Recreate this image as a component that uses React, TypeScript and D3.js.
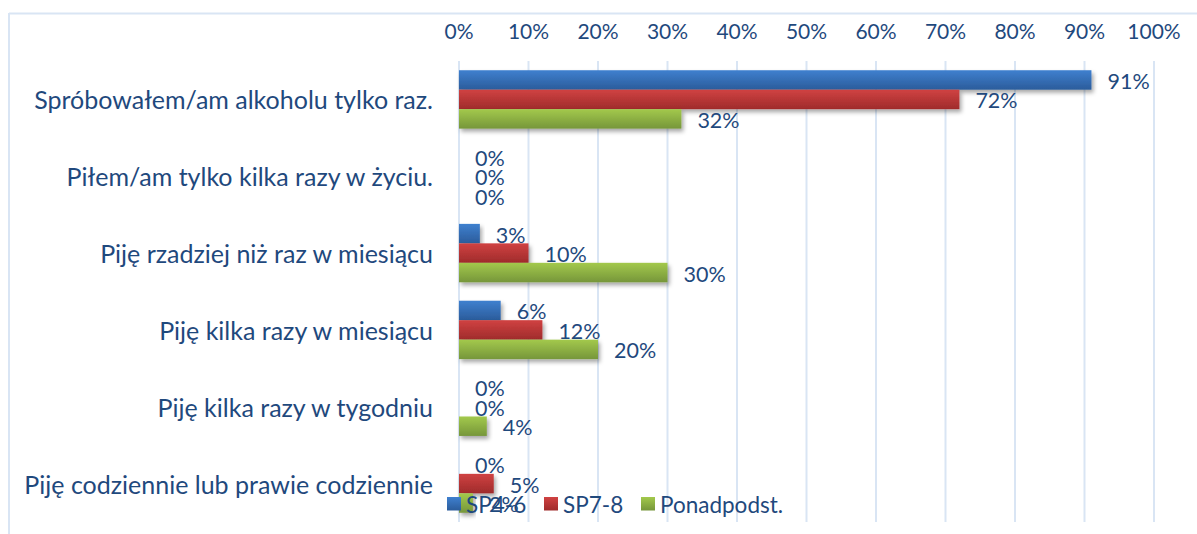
import React from "react";
import * as d3 from "d3";

const categories = [
  "Spróbowałem/am alkoholu tylko raz.",
  "Piłem/am tylko kilka razy w życiu.",
  "Piję rzadziej niż raz w miesiącu",
  "Piję kilka razy w miesiącu",
  "Piję kilka razy w tygodniu",
  "Piję codziennie lub prawie codziennie",
];
const seriesNames = ["SP4-6", "SP7-8", "Ponadpodst."];
const sp46 = [91, 0, 3, 6, 0, 0];
const sp78 = [72, 0, 10, 12, 0, 5];
const ponad = [32, 0, 30, 20, 4, 2];
const tickValues = [0, 10, 20, 30, 40, 50, 60, 70, 80, 90, 100];

const W = 1197;
const H = 534;
const FONT = "Lato, 'Open Sans', sans-serif";
const TEXT = "#1F497D";
const GRID = "#D9E5F4";
const grads = [
  { id: "gBlue", top: "#3F80CF", bot: "#2B5C9B" },
  { id: "gRed", top: "#D04242", bot: "#9F2B2B" },
  { id: "gGreen", top: "#A3C94C", bot: "#76963A" },
];

export default function App() {
  const series = [sp46, sp78, ponad];
  const x = d3.scaleLinear().domain([0, 100]).range([459, 1154]);
  const y = d3.scaleBand<string>().domain(categories).range([61, 522]).paddingInner(0.24).paddingOuter(0.12);
  const inner = d3.scaleBand<number>().domain([0, 1, 2]).range([0, y.bandwidth()]);
  const legendX = [447, 544, 641];

  return (
    <svg width={W} height={H} style={{ position: "absolute", left: 0, top: 0 }} fontFamily={FONT}>
      <defs>
        {grads.map((g) => (
          <linearGradient key={g.id} id={g.id} x1="0" y1="0" x2="0" y2="1">
            <stop offset="0%" stopColor={g.top} />
            <stop offset="100%" stopColor={g.bot} />
          </linearGradient>
        ))}
        <filter id="shadow" x="-10%" y="-30%" width="130%" height="180%">
          <feDropShadow dx="2" dy="3" stdDeviation="2" floodColor="#000" floodOpacity="0.35" />
        </filter>
      </defs>
      <rect x={0} y={0} width={W} height={H} fill="#fff" />
      <line x1={9} x2={W} y1={13.5} y2={13.5} stroke={GRID} strokeWidth={2} />
      <line x1={9} x2={9} y1={13} y2={H} stroke={GRID} strokeWidth={2} />
      {tickValues.map((t) => (
        <g key={t}>
          <line x1={x(t)} x2={x(t)} y1={61} y2={522} stroke={GRID} strokeWidth={2} />
          <text x={x(t)} y={30} textAnchor="middle" dominantBaseline="central" fontSize={21} fill={TEXT}>
            {t}%
          </text>
        </g>
      ))}
      {categories.map((c) => (
        <text key={c} x={433} y={(y(c) as number) + y.bandwidth() / 2} textAnchor="end" dominantBaseline="central" fontSize={25} fill={TEXT}>
          {c}
        </text>
      ))}
      {categories.map((c, ci) =>
        series.map((s, si) => {
          const by = (y(c) as number) + (inner(si) as number);
          const v = s[ci];
          return (
            <g key={c + si}>
              {v > 0 && (
                <rect x={x(0)} y={by} width={x(v) - x(0)} height={inner.bandwidth()} fill={`url(#${grads[si].id})`} filter="url(#shadow)" />
              )}
            </g>
          );
        })
      )}
      {categories.map((c, ci) =>
        series.map((s, si) => {
          const by = (y(c) as number) + (inner(si) as number);
          const v = s[ci];
          return (
            <text key={c + si + "l"} x={x(v) + 16} y={by + inner.bandwidth() / 2 + 1} dominantBaseline="central" fontSize={21.5} fill={TEXT}>
              {v}%
            </text>
          );
        })
      )}
      {seriesNames.map((n, i) => (
        <g key={n}>
          <rect x={legendX[i]} y={497} width={14} height={13.5} fill={`url(#${grads[i].id})`} />
          <text x={legendX[i] + 19} y={504} dominantBaseline="central" fontSize={22.5} fill={TEXT}>
            {n}
          </text>
        </g>
      ))}
    </svg>
  );
}
